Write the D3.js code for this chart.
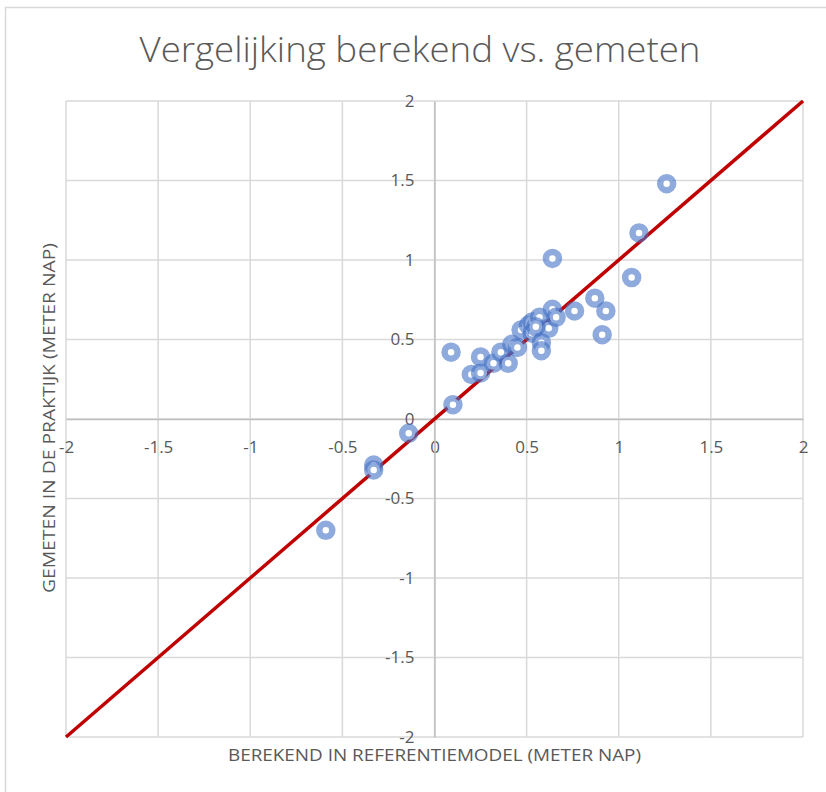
<!DOCTYPE html>
<html>
<head>
<meta charset="utf-8">
<script src="https://cdn.jsdelivr.net/npm/d3@7"></script>
<style>
  body { margin: 0; background: #fff; }
  svg { display: block; }
</style>
</head>
<body>
<div id="chart"></div>
<script>
// Chart data
const titleText = 'Vergelijking berekend vs. gemeten';
const xLabelText = 'BEREKEND IN REFERENTIEMODEL (METER NAP)';
const yLabelText = 'GEMETEN IN DE PRAKTIJK (METER NAP)';

const axisTicks = [-2, -1.5, -1, -0.5, 0, 0.5, 1, 1.5, 2];

// berekend (x) and gemeten (y), in meter NAP
const berekend = [-0.59, -0.33, -0.33, -0.14, 0.10, 0.09, 0.20, 0.25, 0.25, 0.32,
                  0.36, 0.40, 0.42, 0.45, 0.47, 0.51, 0.53, 0.57, 0.53, 0.58,
                  0.58, 0.62, 0.64, 0.66, 0.76, 0.87, 0.93, 0.91, 0.64, 1.07,
                  1.11, 1.26, 0.55];
const gemeten = [-0.70, -0.29, -0.32, -0.09, 0.09, 0.42, 0.28, 0.29, 0.39, 0.35,
                 0.42, 0.35, 0.47, 0.45, 0.56, 0.59, 0.61, 0.64, 0.54, 0.48,
                 0.43, 0.57, 0.69, 0.64, 0.68, 0.76, 0.68, 0.53, 1.01, 0.89,
                 1.17, 1.48, 0.58];

// reference line y = x
const lineX = [-2, 2];
const lineY = [-2, 2];

const W = 826, H = 792;
const plot = { left: 66, right: 803, top: 101, bottom: 737 };
const textColor = '#595959';
const fontFamily = '"Open Sans", "Noto Sans", sans-serif';

const svg = d3.select('#chart')
    .append('svg')
    .attr('width', W)
    .attr('height', H);

// Chart border (runs off the right/bottom edge like the screenshot)
svg.append('rect')
    .attr('x', 5.5)
    .attr('y', 7.5)
    .attr('width', W + 20)
    .attr('height', H + 20)
    .attr('fill', '#fff')
    .attr('stroke', '#d9d9d9')
    .attr('stroke-width', 1.5);

// Scales
const x = d3.scaleLinear().domain([-2, 2]).range([plot.left, plot.right]);
const y = d3.scaleLinear().domain([-2, 2]).range([plot.bottom, plot.top]);

// Grid lines
const grid = svg.append('g').attr('class', 'grid');
grid.selectAll('line.v')
    .data(axisTicks)
    .enter()
    .append('line')
    .attr('class', 'v')
    .attr('x1', d => x(d))
    .attr('x2', d => x(d))
    .attr('y1', plot.top)
    .attr('y2', plot.bottom)
    .attr('stroke', '#d9d9d9')
    .attr('stroke-width', 1.5);
grid.selectAll('line.h')
    .data(axisTicks)
    .enter()
    .append('line')
    .attr('class', 'h')
    .attr('x1', plot.left)
    .attr('x2', plot.right)
    .attr('y1', d => y(d))
    .attr('y2', d => y(d))
    .attr('stroke', '#d9d9d9')
    .attr('stroke-width', 1.5);

// Axes crossing at zero
const fmt = d => String(d);

const xAxis = svg.append('g')
    .attr('transform', `translate(0,${y(0)})`)
    .call(d3.axisBottom(x).tickValues(axisTicks).tickFormat(fmt).tickSize(0).tickPadding(22));

const yAxis = svg.append('g')
    .attr('transform', `translate(${x(0)},0)`)
    .call(d3.axisLeft(y).tickValues(axisTicks).tickFormat(fmt).tickSize(0).tickPadding(20));

[xAxis, yAxis].forEach(g => {
    g.select('.domain')
        .attr('stroke', '#bfbfbf')
        .attr('stroke-width', 1.5);
    g.selectAll('text')
        .style('font-family', fontFamily)
        .style('font-size', '17px')
        .style('fill', textColor);
});

// Reference line
svg.append('line')
    .attr('x1', x(lineX[0]))
    .attr('y1', y(lineY[0]))
    .attr('x2', x(lineX[1]))
    .attr('y2', y(lineY[1]))
    .attr('stroke', '#c00000')
    .attr('stroke-width', 3.5)
    .attr('stroke-linecap', 'butt');

// Points
const points = berekend.map((b, i) => ({ b: b, g: gemeten[i] }));
svg.append('g')
    .selectAll('circle')
    .data(points)
    .enter()
    .append('circle')
    .attr('cx', d => x(d.b))
    .attr('cy', d => y(d.g))
    .attr('r', 6.5)
    .attr('fill', '#fff')
    .attr('stroke', '#4472c4')
    .attr('stroke-opacity', 0.6)
    .attr('stroke-width', 6.5);

// Title
svg.append('text')
    .attr('x', 420)
    .attr('y', 62)
    .attr('text-anchor', 'middle')
    .attr('textLength', 561)
    .attr('lengthAdjust', 'spacingAndGlyphs')
    .style('font-family', fontFamily)
    .style('font-weight', 300)
    .style('font-size', '34px')
    .style('fill', textColor)
    .text(titleText);

// X axis label
svg.append('text')
    .attr('x', 434.5)
    .attr('y', 761)
    .attr('text-anchor', 'middle')
    .attr('textLength', 413)
    .attr('lengthAdjust', 'spacingAndGlyphs')
    .style('font-family', fontFamily)
    .style('font-size', '16px')
    .style('fill', textColor)
    .text(xLabelText);

// Y axis label
svg.append('text')
    .attr('transform', `translate(55,418) rotate(-90)`)
    .attr('text-anchor', 'middle')
    .attr('textLength', 350)
    .attr('lengthAdjust', 'spacingAndGlyphs')
    .style('font-family', fontFamily)
    .style('font-size', '16px')
    .style('fill', textColor)
    .text(yLabelText);
</script>
</body>
</html>
